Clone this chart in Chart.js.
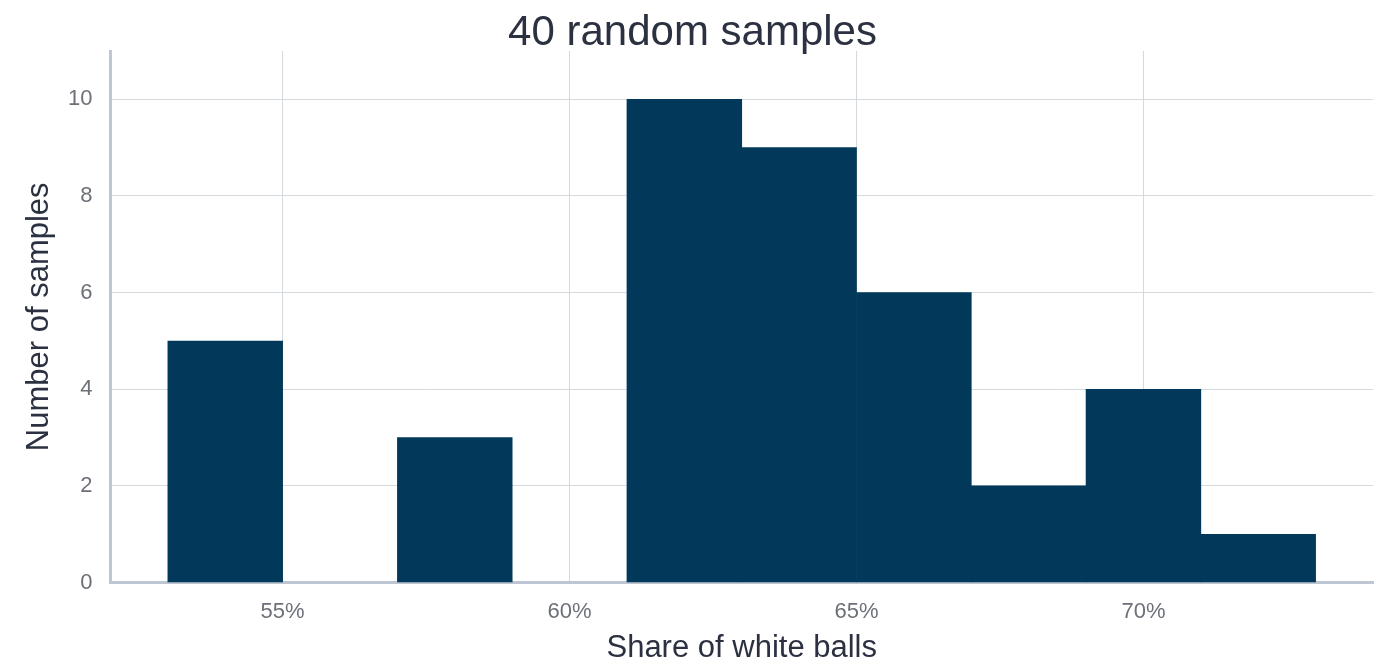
<!DOCTYPE html>
<html>
<head>
<meta charset="utf-8">
<title>40 random samples</title>
<script src="https://cdn.jsdelivr.net/npm/chart.js@4/dist/chart.umd.min.js"></script>
<style>
  html, body { margin: 0; padding: 0; background: #fff; }
  #wrap { width: 1375px; height: 659px; position: relative; }
</style>
</head>
<body>
<div id="wrap"><canvas id="histChart"></canvas></div>
<script>
// Histogram: share of white balls, bins of 2 percentage points
const binCenters = [54, 56, 58, 60, 62, 64, 66, 68, 70, 72];
const binCounts = [5, 0, 3, 0, 10, 9, 6, 2, 4, 1];
const xTicks = [55, 60, 65, 70];
const yTicks = [0, 2, 4, 6, 8, 10];

(function () {
  const ctx = document.getElementById('histChart').getContext('2d');
  const font = "'Liberation Sans', Arial, Helvetica, sans-serif";

  new Chart(ctx, {
    type: 'bar',
    data: {
      datasets: [
        {
          label: 'Samples',
          // empty bins are skipped so nothing is drawn on the axis line
          data: binCenters.map((x, i) => ({ x, y: binCounts[i] || null })),
          backgroundColor: '#02395a',
          borderWidth: 0,
          barPercentage: 1,
          categoryPercentage: 1,
        },
      ],
    },
    options: {
      responsive: true,
      maintainAspectRatio: false,
      animation: false,
      layout: { padding: { left: 12, right: 2, top: 0, bottom: 0 } },
      plugins: {
        legend: { display: false },
        tooltip: { enabled: false },
        title: {
          display: true,
          text: '40 random samples',
          color: '#2b3140',
          font: { family: font, size: 42, weight: 'normal', lineHeight: 1 },
          padding: { top: 12, bottom: -3 },
        },
      },
      scales: {
        x: {
          type: 'linear',
          min: 52,
          max: 74,
          offset: false,
          afterBuildTicks: (s) => { s.ticks = xTicks.map((v) => ({ value: v })); },
          ticks: {
            color: '#6e7079',
            font: { family: font, size: 22 },
            padding: 16,
            callback: (v) => v + '%',
          },
          grid: { color: '#d5d9e0', lineWidth: 1, drawTicks: false, offset: false },
          border: { color: '#bec6d3', width: 3 },
          title: {
            display: true,
            text: 'Share of white balls',
            color: '#2b3140',
            font: { family: font, size: 31, lineHeight: 1 },
            padding: { top: -8, bottom: -5 },
          },
        },
        y: {
          min: 0,
          max: 11,
          afterBuildTicks: (s) => { s.ticks = yTicks.map((v) => ({ value: v })); },
          ticks: {
            color: '#6e7079',
            font: { family: font, size: 22 },
            padding: 18,
          },
          grid: { color: '#d5d9e0', lineWidth: 1, drawTicks: false },
          border: { color: '#bec6d3', width: 3 },
          title: {
            display: true,
            text: 'Number of samples',
            color: '#2b3140',
            font: { family: font, size: 31, lineHeight: 1 },
            padding: { top: 12, bottom: -5 },
          },
        },
      },
    },
  });
})();
</script>
</body>
</html>
